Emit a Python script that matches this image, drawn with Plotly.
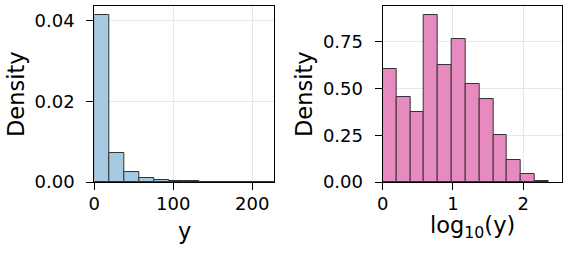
import plotly.graph_objects as go

# ---- data ----
left_bin_edges = [0, 19, 38, 57, 76, 95, 114, 133, 152, 171, 190, 209, 228]
left_density = [0.0415, 0.00728, 0.0024, 0.00092, 0.00057, 0.00032, 0.00015,
                0.00003, 0.00005, 0.0, 0.0, 0.0]

right_bin_edges = [0, 0.1967, 0.3933, 0.59, 0.7867, 0.9833, 1.18, 1.3767,
                   1.5733, 1.77, 1.9667, 2.1633, 2.36]
right_density = [0.604, 0.454, 0.376, 0.892, 0.623, 0.762, 0.523, 0.445,
                 0.249, 0.116, 0.041, 0.005]

left_xticks = [0, 100, 200]
left_yticks = [0.00, 0.02, 0.04]
left_yticklabels = ["0.00", "0.02", "0.04"]
right_xticks = [0, 1, 2]
right_yticks = [0.00, 0.25, 0.50, 0.75]
right_yticklabels = ["0.00", "0.25", "0.50", "0.75"]

left_xlabel = "y"
right_xlabel = "log<sub>10</sub>(y)"
ylabel = "Density"


def centers(edges):
    return [(a + b) / 2 for a, b in zip(edges[:-1], edges[1:])]


def widths(edges):
    return [b - a for a, b in zip(edges[:-1], edges[1:])]


FONT = "DejaVu Sans"
W, H = 569, 253

fig = go.Figure()
fig.add_trace(go.Bar(
    x=centers(left_bin_edges), y=left_density, width=widths(left_bin_edges),
    marker=dict(color="#a4c9e1", line=dict(color="#333333", width=1)),
    xaxis="x", yaxis="y", showlegend=False))
fig.add_trace(go.Bar(
    x=centers(right_bin_edges), y=right_density, width=widths(right_bin_edges),
    marker=dict(color="#e78abf", line=dict(color="#333333", width=1)),
    xaxis="x2", yaxis="y2", showlegend=False))

tickfont = dict(family=FONT, size=18, color="black")
titlefont = dict(family=FONT, size=22.5, color="black")

axis_common = dict(
    showline=True, linecolor="black", linewidth=1.2, mirror=True,
    ticks="outside", ticklen=7, tickwidth=1.2, tickcolor="black",
    showgrid=True, gridcolor="#e8e8e8", gridwidth=1,
    zeroline=False, tickfont=tickfont, automargin=False,
)

ydom = [1 - 182 / H, 1 - 6 / H]

fig.update_layout(
    width=W, height=H, margin=dict(l=0, r=0, t=0, b=0),
    plot_bgcolor="white", paper_bgcolor="white", bargap=0,
    xaxis=dict(domain=[94.3 / W, 274 / W], range=[0, 227.5],
               tickvals=left_xticks, ticklabelstandoff=-2,
               anchor="y", **axis_common),
    yaxis=dict(domain=ydom, range=[0, 0.0437],
               tickvals=left_yticks, ticktext=left_yticklabels,
               ticklabelstandoff=8,
               anchor="x", **axis_common),
    xaxis2=dict(domain=[382.7 / W, 562.3 / W], range=[0, 2.555],
                tickvals=right_xticks, ticklabelstandoff=-2,
                anchor="y2", **axis_common),
    yaxis2=dict(domain=ydom, range=[0, 0.941],
                tickvals=right_yticks, ticktext=right_yticklabels,
                ticklabelstandoff=8,
                anchor="x2", **axis_common),
)


def px(x):
    return x / W


def py(y):
    return 1 - y / H


annots = [
    dict(text=ylabel, x=px(16), y=py(94), textangle=-90),
    dict(text=ylabel, x=px(304), y=py(94), textangle=-90),
    dict(text=left_xlabel, x=px(184), y=py(231)),
    dict(text=right_xlabel, x=px(472), y=py(227)),
]
for a in annots:
    fig.add_annotation(xref="paper", yref="paper", showarrow=False,
                       xanchor="center", yanchor="middle", borderpad=0,
                       font=titlefont, **a)

fig.write_html("out.html")
